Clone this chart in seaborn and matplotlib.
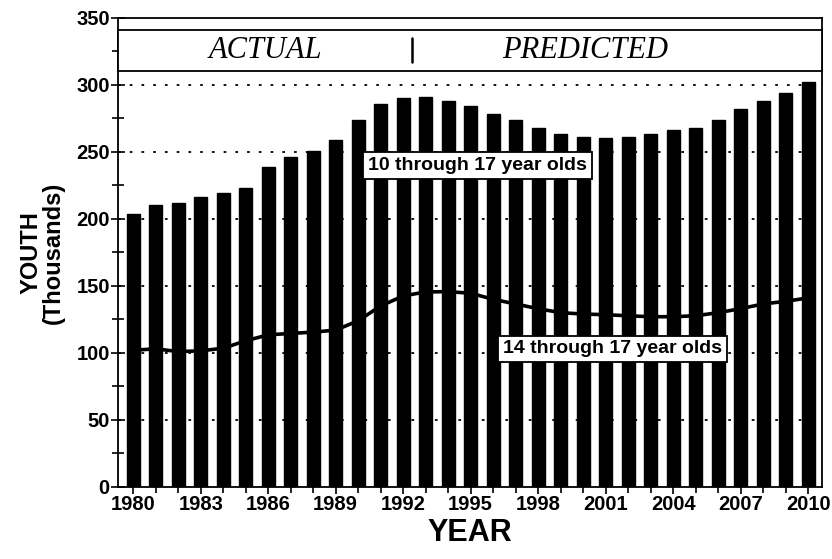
import numpy as np
import pandas as pd
import matplotlib.pyplot as plt
import matplotlib.patches as mpatches
import seaborn as sns

sns.set_theme(style="white")
plt.rcParams["font.family"] = ["Liberation Sans", "DejaVu Sans"]
plt.rcParams.update({"text.color": "black", "axes.labelcolor": "black",
                     "xtick.color": "black", "ytick.color": "black"})

# ── Data ─────────────────────────────────────────────────────
years = list(range(1980, 2011))
youth_10_17 = [204, 210, 212, 216, 219, 223, 239, 246, 251, 259,
               274, 286, 290, 291, 288, 284, 278, 274, 268, 263,
               261, 260, 261, 263, 266, 268, 274, 282, 288, 294, 302]
youth_14_17 = [102, 103, 101, 101.5, 103.5, 109, 113.5, 114.5, 115.5, 117,
               124, 135, 142.5, 145.5, 145.7, 144.5, 140, 136.5, 133, 130,
               129, 128.5, 127.7, 127, 127, 127.7, 130, 133, 136.5, 138.5, 141]
tick_years = years[::3]

df = pd.DataFrame({"year": years, "y10": youth_10_17, "y14": youth_14_17})

fig = plt.figure(figsize=(8.32, 5.59), dpi=100)
ax = fig.add_axes([0.142, 0.129, 0.846, 0.839])

# dotted grid behind the bars
for v in range(50, 301, 50):
    ax.axhline(v, color="black", lw=1.3, ls=(0, (1.5, 5)), zorder=0)

sns.barplot(data=df, x="year", y="y10", native_scale=True, width=0.58,
            color="black", saturation=1, edgecolor="black", ax=ax, zorder=2)
sns.lineplot(data=df, x="year", y="y14", color="black", lw=2.6, ax=ax, zorder=3)

ax.set_xlim(1979.33, 2010.62)
ax.set_ylim(0, 350)
ax.set_xticks(tick_years)
ax.set_xticks(years, minor=True)
ax.set_yticks(range(0, 351, 50))
ax.set_yticks(range(0, 351, 25), minor=True)
ax.tick_params(axis="both", which="both", direction="inout", color="black",
               width=1.2, bottom=True, left=True)
ax.tick_params(axis="both", which="major", length=10, labelsize=14.5, pad=1)
ax.tick_params(axis="both", which="minor", length=8)
for lab in ax.get_xticklabels() + ax.get_yticklabels():
    lab.set_fontweight("bold")

for sp in ax.spines.values():
    sp.set_color("black")
    sp.set_linewidth(1.3)

ax.set_xlabel("YEAR", fontsize=22, fontweight="bold", labelpad=3)
ax.set_ylabel("YOUTH\n(Thousands)", fontsize=17, fontweight="bold", labelpad=8,
              linespacing=1.0)

# header band: ACTUAL | PREDICTED
band = mpatches.Rectangle((0, 310.5), 1, 30.5, transform=ax.get_yaxis_transform(),
                          facecolor="white", edgecolor="black", lw=1.3,
                          zorder=4, clip_on=False)
ax.add_patch(band)
ax.text(1985.9, 326, "ACTUAL", fontsize=22, style="italic",
        family="Liberation Serif", ha="center", va="center", zorder=5)
ax.text(2000.1, 326, "PREDICTED", fontsize=22, style="italic",
        family="Liberation Serif", ha="center", va="center", zorder=5)
ax.plot([1992.4, 1992.4], [317, 335], color="black", lw=1.8, zorder=5)

box = dict(boxstyle="square,pad=0.25", facecolor="white", edgecolor="black", lw=1.3)
ax.text(1995.3, 240, "10 through 17 year olds", fontsize=14, fontweight="bold",
        ha="center", va="center", bbox=box, zorder=6)
ax.text(2001.3, 103, "14 through 17 year olds", fontsize=14, fontweight="bold",
        ha="center", va="center", bbox=box, zorder=6)

plt.savefig("out.png", dpi=100)
plt.close()
